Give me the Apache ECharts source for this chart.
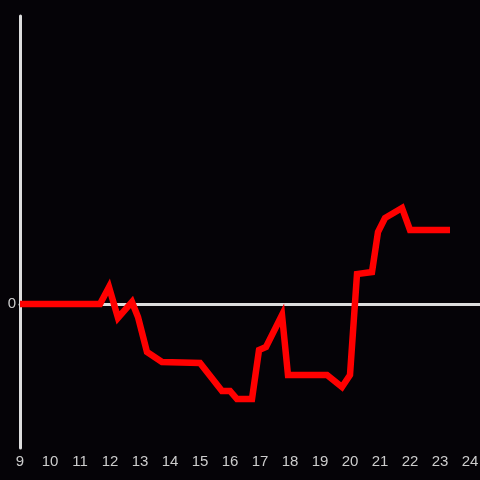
<!DOCTYPE html>
<html><head><meta charset="utf-8">
<script src="https://cdn.jsdelivr.net/npm/echarts@6/dist/echarts.min.js"></script>
<style>html,body{margin:0;padding:0;background:#050307}#c{width:480px;height:480px}</style>
</head><body><div id="c"></div>
<script>
const hours = [9, 11.667, 11.967, 12.267, 12.733, 12.933, 13.233, 13.733, 15.0, 15.733, 16.0, 16.233, 16.733, 16.967, 17.2, 17.733, 17.933, 19.233, 19.733, 20.0, 20.233, 20.733, 20.933, 21.167, 21.733, 22.0, 23.333];
const values = [0, 0, 11.8, -9.7, 1.4, -9, -33.3, -40.3, -41, -60.4, -60.4, -66, -66, -32, -29.9, -7.6, -49.3, -49.3, -57.6, -49.3, 20.8, 22.2, 50, 59.7, 66.7, 51.4, 51.4];
const xTicks = [9, 10, 11, 12, 13, 14, 15, 16, 17, 18, 19, 20, 21, 22, 23, 24];
const yTicks = [0];

const chart = echarts.init(document.getElementById('c'));
chart.setOption({
  backgroundColor: '#050307',
  animation: false,
  grid: {left: 20, right: 0, top: 16, bottom: 32, containLabel: false, outerBoundsMode: 'none'},
  xAxis: [{
    type: 'value', min: 9, max: 24.333, interval: 1,
    axisLine: {show: false, onZero: false},
    axisTick: {show: false},
    splitLine: {show: false},
    axisLabel: {color: '#cccccc', fontSize: 15, margin: 6, fontFamily: 'Liberation Sans, Arial, sans-serif',
      formatter: v => xTicks.includes(Math.round(v * 1000) / 1000) ? String(v) : ''}
  }, {
    type: 'value', min: 9, max: 24.333, interval: 1,
    axisLine: {show: true, onZero: true, lineStyle: {color: '#dddddd', width: 3}},
    axisTick: {show: false}, axisLabel: {show: false}, splitLine: {show: false}
  }],
  yAxis: {
    type: 'value', min: -100, max: 200, interval: 100,
    axisLine: {show: true, lineStyle: {color: '#dddddd', width: 3}},
    axisTick: {show: false},
    splitLine: {show: false},
    axisLabel: {color: '#cccccc', fontSize: 15, margin: 4, fontFamily: 'Liberation Sans, Arial, sans-serif',
      formatter: v => yTicks.includes(v) ? String(v) : ''}
  },
  series: [{
    type: 'line', xAxisIndex: 0,
    data: hours.map((h, i) => [h, values[i]]),
    showSymbol: false, symbol: 'none',
    lineStyle: {color: '#ff0000', width: 6.5, cap: 'butt', join: 'miter'},
    z: 5
  }]
});
</script></body></html>
